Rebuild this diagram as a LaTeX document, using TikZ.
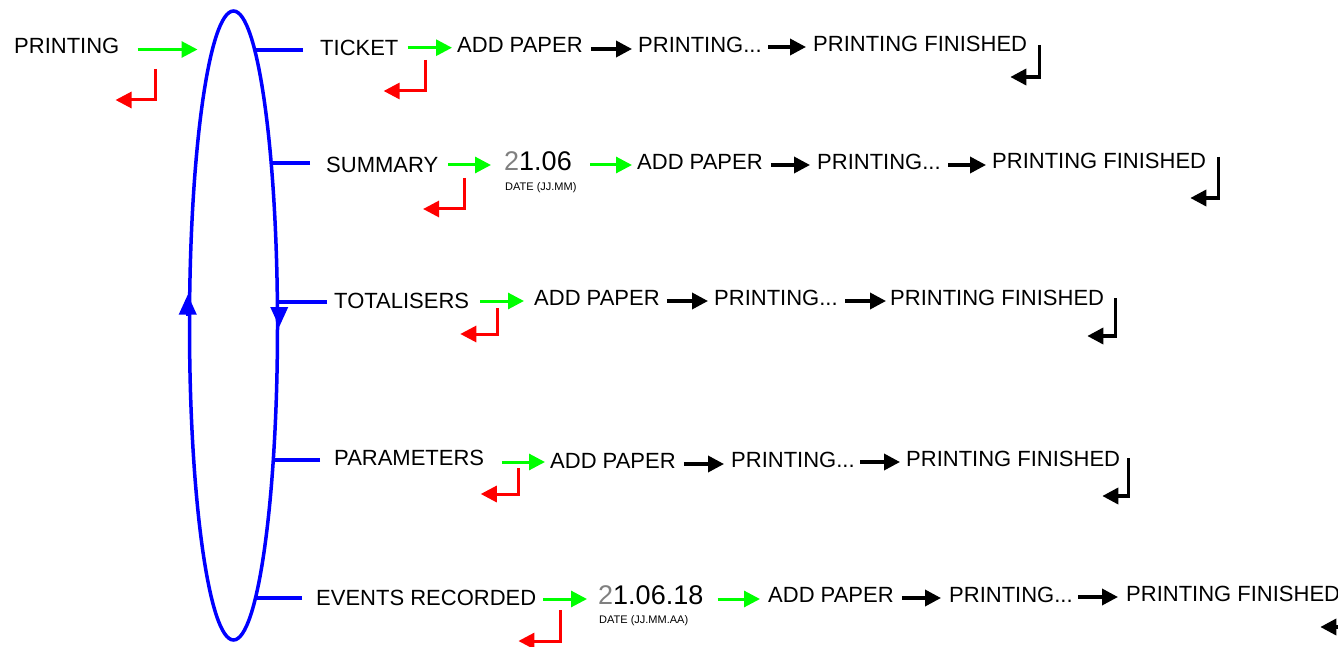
\documentclass[tikz,border=0pt]{standalone}
\usepackage{fontspec}
\setmainfont{Liberation Sans}
\usetikzlibrary{arrows.meta,shapes.geometric}

\definecolor{flowgreen}{RGB}{0,255,0}
\definecolor{flowred}{RGB}{255,0,0}
\definecolor{flowblue}{RGB}{0,0,255}
\definecolor{numgray}{RGB}{128,128,128}

% horizontal step arrow: style, source node, target node, dx, dy, gap before target
\newcommand\flowarrow[6]{%
  \path ([shift={(#4,#5)}]#2.base east) coordinate (flowstart);
  \draw[#1, shorten >=#6pt] (flowstart) -- (flowstart -| #3.base west);}
% return arrow (down, then back to the left): style, node, dx, dy, run x, run y
\newcommand\backarrow[6]{%
  \draw[#1] ([shift={(#3,#4)}]#2.base east) |- ++(#5,#6);}
% branch from the menu loop to an entry: node, dx, dy, length
\newcommand\menubranch[4]{%
  \draw[menuline] ([shift={(#2,#3)}]#1.base west) -- ++(-#4,0);}

\begin{document}
\begin{tikzpicture}[x=1pt,y=-1pt,
  lbl/.style={anchor=base west, inner sep=0pt, font=\fontsize{22}{26}\selectfont},
  datenum/.style={anchor=base west, inner sep=0pt, font=\fontsize{27}{30}\selectfont},
  datenote/.style={anchor=base west, inner sep=0pt, font=\fontsize{11}{13}\selectfont},
  tip/.style={-{Triangle[length=16pt,width=16pt]}},
  nextstep/.style={tip, line width=3pt, flowgreen},
  cancel/.style={tip, line width=3pt, flowred},
  advance/.style={tip, line width=3.5pt, black},
  menuline/.style={line width=3.5pt, flowblue},
  looptip/.style={line width=3.5pt, flowblue, -{Triangle[length=20pt,width=17pt]}},
]
\path[use as bounding box, clip] (0,0) rectangle (1338,647);

% the menu loop
\node[draw=flowblue, line width=3.5pt, ellipse, inner sep=0pt,
      minimum width=88pt, minimum height=629pt] (loop) at (233.5,325.5) {};
\draw[looptip] ([yshift=10pt]loop.west) -- ([yshift=31pt]loop.west);
\draw[looptip] ([yshift=17pt]loop.east) -- ([yshift=-1.5pt]loop.east);

% entry
\node[lbl] (p0) at (14,54) {PRINTING};
\draw[nextstep] ([shift={(18,-4.5)}]p0.base east) -- ++(60,0);
\backarrow{cancel}{p0}{36}{15}{-40}{31}

% ticket
\node[lbl] (t1) at (320,56) {TICKET};
\node[lbl] (a1) at (457,53) {ADD PAPER};
\node[lbl] (r1) at (638,53) {PRINTING...};
\node[lbl] (f1) at (813,52) {PRINTING FINISHED};
\menubranch{t1}{-17}{-6}{48}
\flowarrow{nextstep}{t1}{a1}{9}{-8.3}{5}
\flowarrow{advance}{a1}{r1}{8}{-4}{6}
\flowarrow{advance}{r1}{f1}{6.5}{-6}{7}
\backarrow{advance}{f1}{12}{-7}{-29}{32}
\backarrow{cancel}{t1}{27}{4}{-42}{31}

% summary
\node[lbl] (s2) at (326,173) {SUMMARY};
\node[datenum] (d2) at (504,171) {\textcolor{numgray}{2}1.06};
\node[datenote] (n2) at (505,190) {DATE (JJ.MM)};
\node[lbl] (a2) at (637,170) {ADD PAPER};
\node[lbl] (r2) at (817,170) {PRINTING...};
\node[lbl] (f2) at (992,169) {PRINTING FINISHED};
\menubranch{s2}{-16}{-10}{39}
\flowarrow{nextstep}{s2}{d2}{9.6}{-8}{13}
\flowarrow{nextstep}{d2}{a2}{18.5}{-6}{5}
\flowarrow{advance}{a2}{r2}{8}{-5}{7}
\flowarrow{advance}{r2}{f2}{7.5}{-5}{6}
\backarrow{advance}{f2}{12}{-12}{-28}{41}
\backarrow{cancel}{s2}{25.6}{5}{-41}{31}

% totalisers
\node[lbl] (tt) at (334,308) {TOTALISERS};
\node[lbl] (a3) at (534,305) {ADD PAPER};
\node[lbl] (r3) at (714,305) {PRINTING...};
\node[lbl] (f3) at (890,305) {PRINTING FINISHED};
\menubranch{tt}{-7}{-6}{50}
\flowarrow{nextstep}{tt}{a3}{11}{-7}{10}
\flowarrow{advance}{a3}{r3}{7}{-4}{6}
\flowarrow{advance}{r3}{f3}{7.5}{-4}{4}
\backarrow{advance}{f3}{11}{-7}{-28}{38}
\backarrow{cancel}{tt}{28}{0}{-37}{26}

% parameters
\node[lbl] (pa) at (334,465) {PARAMETERS};
\node[lbl] (a4) at (550,468) {ADD PAPER};
\node[lbl] (r4) at (731,467) {PRINTING...};
\node[lbl] (f4) at (906,466) {PRINTING FINISHED};
\menubranch{pa}{-14}{-5}{47}
\flowarrow{nextstep}{pa}{a4}{17.4}{-3}{5}
\flowarrow{advance}{a4}{r4}{8}{-4}{7}
\flowarrow{advance}{r4}{f4}{5.5}{-5}{6}
\backarrow{advance}{f4}{8}{-8}{-26}{38}
\backarrow{cancel}{pa}{34.4}{3}{-38}{26}

% events recorded
\node[lbl] (ev) at (316,605) {EVENTS RECORDED};
\node[datenum] (d5) at (598,604) {\textcolor{numgray}{2}1.06.18};
\node[datenote] (n5) at (599,623) {DATE (JJ.MM.AA)};
\node[lbl] (a5) at (768,602) {ADD PAPER};
\node[lbl] (r5) at (949,602) {PRINTING...};
\node[lbl] (f5) at (1126,601) {PRINTING FINISHED};
\menubranch{ev}{-14}{-7}{46.5}
\flowarrow{nextstep}{ev}{d5}{7}{-6}{11}
\flowarrow{nextstep}{d5}{a5}{14}{-5}{8}
\flowarrow{advance}{a5}{r5}{8}{-4}{8}
\flowarrow{advance}{r5}{f5}{5.5}{-5}{8}
\backarrow{advance}{f5}{9}{-6}{-29}{32}
\backarrow{cancel}{ev}{24}{5}{-42}{31}
\end{tikzpicture}
\end{document}
